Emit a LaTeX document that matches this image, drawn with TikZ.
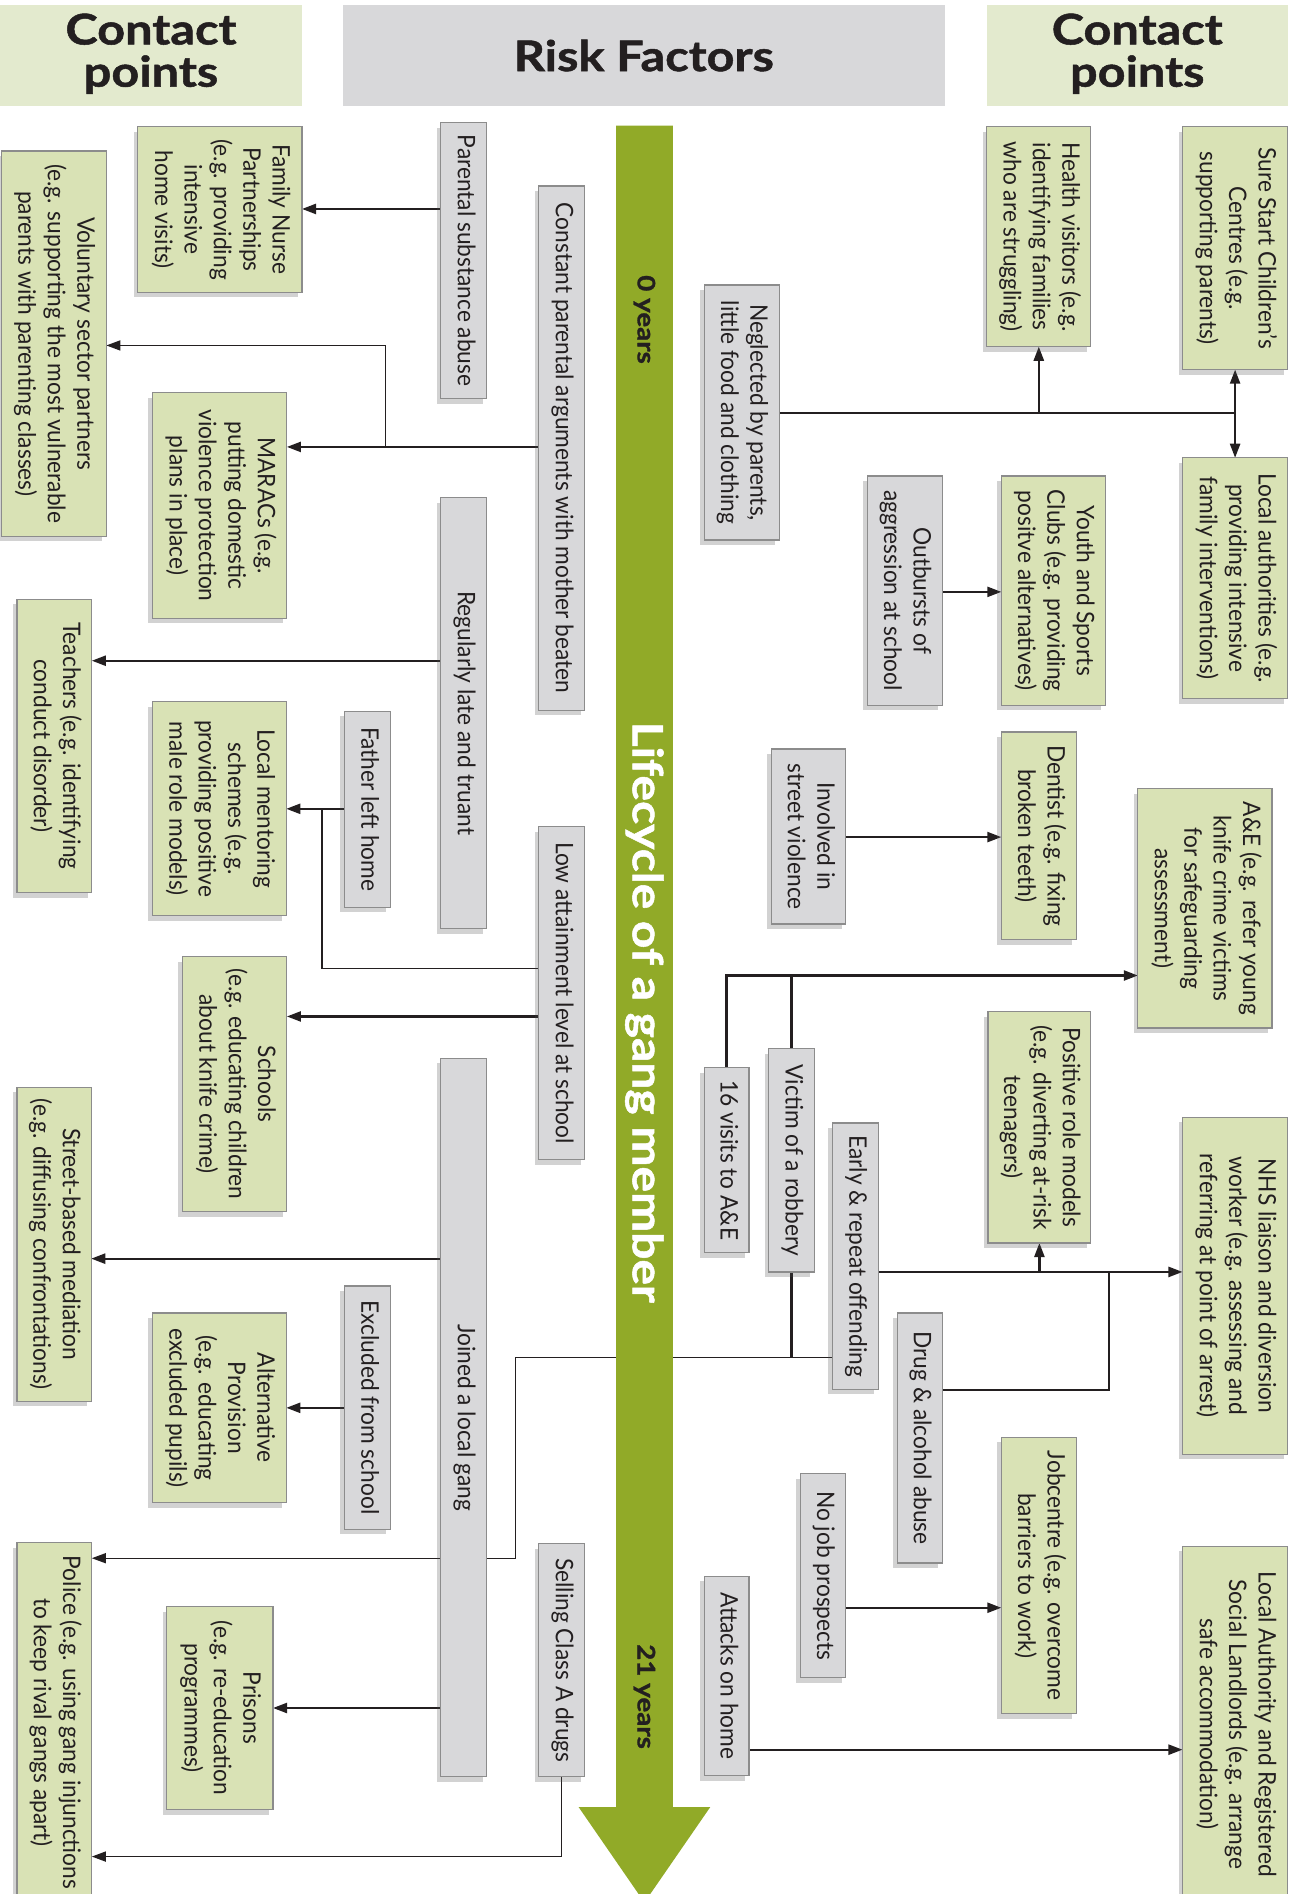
\documentclass[tikz,border=0pt]{standalone}
\usepackage{fontspec}
\usepackage{graphicx}
\setmainfont{Lato}[FakeStretch=0.94]
\newfontfamily\hdfam{Lato}[FakeStretch=1.15, BoldFeatures={FakeBold=1.2}]
\usetikzlibrary{arrows.meta,shadows}
\definecolor{rfgray}{RGB}{216,216,218}
\definecolor{cpgreen}{RGB}{217,226,181}
\definecolor{hdgreen}{RGB}{227,234,206}
\definecolor{hdgray}{RGB}{216,216,218}
\definecolor{arrgreen}{RGB}{145,170,40}
\definecolor{ink}{RGB}{35,31,32}
\definecolor{boxline}{RGB}{140,140,140}
\pgfdeclarelayer{bg}
\pgfdeclarelayer{mid}
\pgfsetlayers{bg,mid,main}
\newcommand\fsbox{\fontsize{12}{14.6}\selectfont}
\newcommand\fshdr{\hdfam\fontsize{21}{18}\selectfont\bfseries}
\newcommand\mkbox[7]{%
  \node[#1, minimum width={(#4-#3)*0.6pt}, minimum height={(#6-#5)*0.6pt}] (#2)
    at ({(#3+#4)/2},{(#5+#6)/2})
    {\rotatebox{-90}{\begin{tabular}{@{}c@{}}#7\end{tabular}}};}
\tikzset{
  base/.style={draw=boxline, line width=0.6pt, inner sep=0pt, outer sep=0pt,
    drop shadow={shadow xshift=-2pt, shadow yshift=-2.5pt, opacity=0.25, fill=black!70}},
  rf/.style={base, fill=rfgray, font=\fsbox, text=ink},
  cp/.style={base, fill=cpgreen, font=\fsbox, text=ink},
  hdr/.style={inner sep=0pt, outer sep=0pt, font=\fshdr, text=ink},
  conn/.style={draw=ink, line width=1.1pt},
  arr/.style={conn, -{Triangle[length=7pt,width=5pt]}},
  thinl/.style={draw=ink, line width=0.7pt},
  agelbl/.style={rotate=-90, font=\hdfam\fontsize{12}{14}\selectfont\bfseries, text=ink},
}
\begin{document}
\begin{tikzpicture}[x=0.6pt,y=-0.6pt]
\useasboundingbox (0,0) rectangle (1076,1568);
% headers
\node[hdr, fill=hdgreen, minimum width=250*0.6pt, minimum height=84*0.6pt] (h1) at (125,46)
  {\begin{tabular}{@{}c@{}}Contact\\points\end{tabular}};
\node[hdr, fill=hdgray, minimum width=498*0.6pt, minimum height=84*0.6pt] (h2) at (533,46) {Risk Factors};
\node[hdr, fill=hdgreen, minimum width=249*0.6pt, minimum height=84*0.6pt] (h3) at (941.5,46)
  {\begin{tabular}{@{}c@{}}Contact\\points\end{tabular}};
% green lifecycle arrow
\begin{pgfonlayer}{mid}
\fill[arrgreen] (510,104) -- (557,104) -- (557,1496) -- (588,1496) -- (533.5,1575)
  -- (479,1496) -- (510,1496) -- cycle;
\node[agelbl] (y0) at (533.5,264.5) {0 years};
\node[rotate=-90, font=\hdfam\fontsize{20.7}{22}\selectfont\bfseries, text=white] (lc) at (533.5,838) {Lifecycle of a gang member};
\node[agelbl] (y21) at (533.5,1404.5) {21 years};
\end{pgfonlayer}
% risk factor boxes
\mkbox{rf}{psa}{365}{403}{101.5}{330}{Parental substance abuse}
\mkbox{rf}{cpa}{446}{484}{154}{588}{Constant parental arguments with mother beaten}
\mkbox{rf}{rlt}{365}{403}{412}{769}{Regularly late and truant}
\mkbox{rf}{flh}{285}{323}{589}{751}{Father left home}
\mkbox{rf}{lat}{446}{484}{684.5}{960}{Low attainment level at school}
\mkbox{rf}{jlg}{365}{403}{876}{1471}{Joined a local gang}
\mkbox{rf}{efs}{285}{323}{1064.6}{1266}{Excluded from school}
\mkbox{rf}{sca}{446}{484}{1278}{1471}{Selling Class A drugs}
\mkbox{rf}{nbp}{583}{645}{236}{447}{Neglected by parents,\\little food and clothing}
\mkbox{rf}{obs}{718}{780}{394}{584}{Outbursts of\\aggression at school}
\mkbox{rf}{isv}{638.6}{700}{620}{765}{Involved in\\street violence}
\mkbox{rf}{vst}{583}{620}{884}{1037}{16 visits to A\&E}
\mkbox{rf}{vor}{636.5}{674}{868}{1053}{Victim of a robbery}
\mkbox{rf}{ero}{689}{727}{929.7}{1150}{Early \& repeat offending}
\mkbox{rf}{dab}{743}{780}{1087}{1294}{Drug \& alcohol abuse}
\mkbox{rf}{njp}{662.6}{700}{1220}{1389}{No job prospects}
\mkbox{rf}{aoh}{583}{620}{1305}{1470}{Attacks on home}
% contact point boxes
\mkbox{cp}{fnp}{114}{250}{105}{242}{Family Nurse\\Partnerships\\(e.g. providing\\intensive\\home visits)}
\mkbox{cp}{vol}{1}{88}{125}{444}{Voluntary sector partners\\(e.g. supporting the most vulnerable\\parents with parenting classes)}
\mkbox{cp}{mar}{126}{237.5}{325}{512}{MARACs (e.g.\\putting domestic\\violence protection\\plans in place)}
\mkbox{cp}{tea}{14}{76}{496}{739}{Teachers (e.g. identifying\\conduct disorder)}
\mkbox{cp}{lms}{126}{237}{581}{758}{Local mentoring\\schemes (e.g.\\providing positive\\male role models)}
\mkbox{cp}{sch}{151}{237.5}{792}{1003}{Schools\\(e.g. educating children\\about knife crime)}
\mkbox{cp}{sbm}{14}{75.5}{900}{1160}{Street-based mediation\\(e.g. diffusing confrontations)}
\mkbox{cp}{alp}{126}{237}{1087}{1244}{Alternative\\Provision\\(e.g. educating\\excluded pupils)}
\mkbox{cp}{pri}{138}{226}{1330}{1498}{Prisons\\(e.g. re-education\\programmes)}
\mkbox{cp}{pol}{14}{76}{1277}{1575}{Police (e.g. using gang injunctions\\to keep rival gangs apart)}
\mkbox{cp}{hvs}{817}{903}{105}{287}{Health visitors (e.g.\\identifying families\\who are struggling)}
\mkbox{cp}{sss}{979}{1066}{105}{306}{Sure Start Children’s\\Centres (e.g.\\supporting parents)}
\mkbox{cp}{las}{979}{1066}{379}{578.5}{Local authorities (e.g.\\providing intensive\\family interventions)}
\mkbox{cp}{ysc}{829}{915}{394}{584}{Youth and Sports\\Clubs (e.g. providing\\positve alternatives)}
\mkbox{cp}{den}{829}{891}{606}{778}{Dentist (e.g. fixing\\broken teeth)}
\mkbox{cp}{aae}{942}{1053}{653}{851}{A\&E (e.g. refer young\\knife crime victims\\for safeguarding\\assessment)}
\mkbox{cp}{prm}{818}{903}{837.6}{1029}{Positive role models\\(e.g. diverting at-risk\\teenagers)}
\mkbox{cp}{nhs}{979}{1066}{925}{1204}{NHS liaison and diversion\\worker (e.g. assessing and\\referring at point of arrest)}
\mkbox{cp}{job}{829}{891}{1190}{1418.7}{Jobcentre (e.g. overcome\\barriers to work)}
\mkbox{cp}{lar}{979}{1066}{1280}{1575}{Local Authority and Registered\\Social Landlords (e.g. arrange\\safe accommodation)}
% junction coordinates
\coordinate (jv) at (319,370);
\coordinate (jf) at (266.6,669.6);
\coordinate (ka) at (427,1124);
\coordinate (kb) at (427,1290);
\coordinate (jd) at (918,1053);
% connectors
\begin{pgfonlayer}{bg}
\draw[arr] (psa.west |- 0,173) -- (fnp.east |- 0,173);
\draw[arr] (cpa.west |- jv) -- (mar.east |- jv);
\draw[thinl, -{Triangle[length=7pt,width=5pt]}] (jv) -- (jv |- 0,286) -- (vol.east |- 0,286);
\draw[arr] (rlt.west |- 0,547) -- (tea.east |- 0,547);
\draw[arr] (flh.west |- jf) -- (lms.east |- jf);
\draw[thinl] (lat.west |- 0,802) -| (jf);
\draw[arr] (lat.west |- 0,841.5) -- (sch.east |- 0,841.5);
\draw[arr] (jlg.west |- 0,1042) -- (sbm.east |- 0,1042);
\draw[arr] (efs.west |- 0,1165.5) -- (alp.east |- 0,1165.5);
\draw[thinl] (ero.west |- ka) -- (ka) -- (kb);
\draw[conn] (vor.south) -- (vor.south |- ka);
\draw[thinl, -{Triangle[length=7pt,width=5pt]}] (kb) -- (pol.east |- kb);
\draw[arr] (jlg.west |- 0,1414) -- (pri.east |- 0,1414);
\draw[thinl, -{Triangle[length=7pt,width=5pt]}] (sca.south) -- (sca.south |- 0,1537) -- (pol.east |- 0,1537);
\draw[conn] (nbp.east |- 0,342) -- (sss.south |- 0,342);
\draw[arr] (hvs.south |- 0,342) -- (hvs.south);
\draw[arr] (sss.south |- 0,342) -- (sss.south);
\draw[arr] (sss.south |- 0,342) -- (las.north);
\draw[arr] (obs.east |- 0,490) -- (ysc.west |- 0,490);
\draw[arr] (isv.east |- 0,693) -- (den.west |- 0,693);
\draw[arr] (vst.north) -- (vst.north |- 0,807.6) -- (aae.west |- 0,807.6);
\draw[conn] (vor.north) -- (vor.north |- 0,807.6);
\draw[arr] (ero.east |- jd) -- (nhs.west |- jd);
\draw[arr] (prm.south |- jd) -- (prm.south);
\draw[thinl] (jd) -- (jd |- 0,1150.6) -- (dab.east |- 0,1150.6);
\draw[arr] (njp.east |- 0,1331) -- (job.west |- 0,1331);
\draw[arr] (aoh.east |- 0,1448.5) -- (lar.west |- 0,1448.5);
\end{pgfonlayer}
\end{tikzpicture}
\end{document}
